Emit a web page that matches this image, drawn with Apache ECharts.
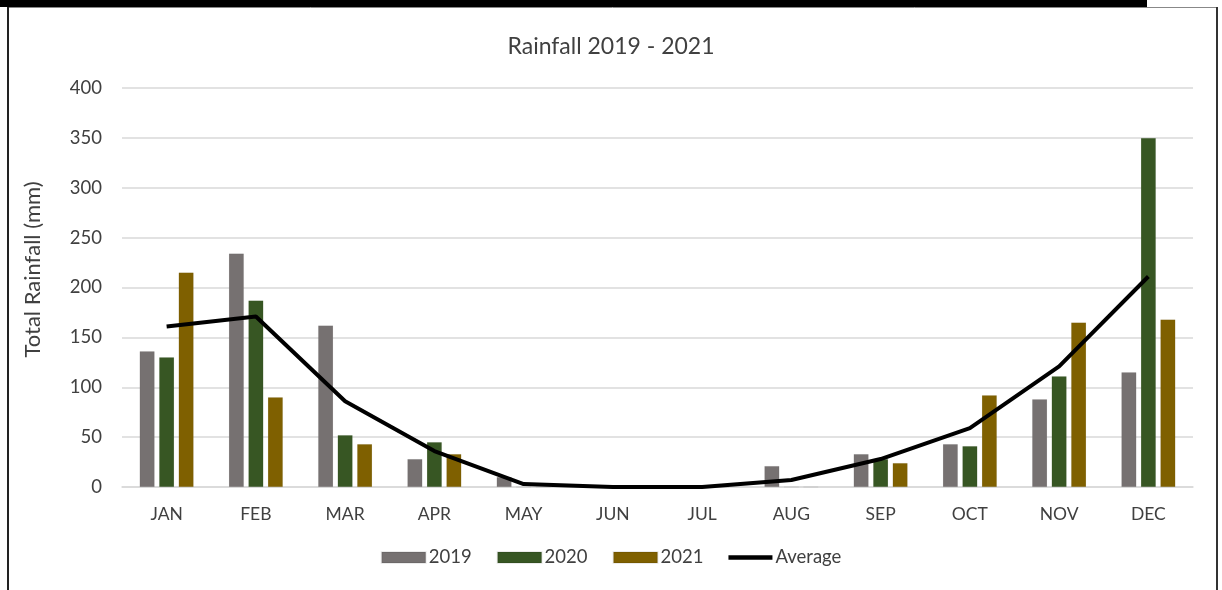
<!DOCTYPE html>
<html>
<head>
<meta charset="utf-8">
<script src="https://cdn.jsdelivr.net/npm/echarts@6/dist/echarts.min.js"></script>
<style>
  html, body { margin: 0; padding: 0; background: #fff; }
  #chart { width: 1222px; height: 590px; }
</style>
</head>
<body>
<div id="chart"></div>
<script>
// Monthly rainfall totals (mm)
const months = ['JAN', 'FEB', 'MAR', 'APR', 'MAY', 'JUN', 'JUL', 'AUG', 'SEP', 'OCT', 'NOV', 'DEC'];
const rain2019 = [136, 234, 162, 28, 10, 0, 0, 21, 33, 43, 88, 115];
const rain2020 = [130, 187, 52, 45, 0, 0, 0, 0, 28, 41, 111, 350];
const rain2021 = [215, 90, 43, 33, 0, 0, 0, 0, 24, 92, 165, 168];
const rainAverage = [161, 171, 86, 36, 3, 0, 0, 7, 28, 59, 121, 211];
const yTicks = [0, 50, 100, 150, 200, 250, 300, 350, 400];

const textColor = '#404040';
const font = 'Lato';

const chart = echarts.init(document.getElementById('chart'), null, { renderer: 'canvas' });

const barSeries = (name, data, color) => ({
  name,
  type: 'bar',
  data,
  barWidth: 15,
  barGap: '30%',
  itemStyle: { color, borderColor: 'rgba(0,0,0,0.08)', borderWidth: 0.5 },
  emphasis: { disabled: true }
});

chart.setOption({
  animation: false,
  backgroundColor: '#fff',
  title: {
    text: 'Rainfall 2019 - 2021',
    left: 'center',
    top: 30,
    textStyle: { fontFamily: font, fontSize: 23, fontWeight: 'normal', color: textColor }
  },
  legend: {
    bottom: 23,
    left: 'center',
    padding: 0,
    itemWidth: 44,
    itemHeight: 11,
    itemGap: 25,
    textStyle: { fontFamily: font, fontSize: 18.5, color: textColor, padding: [0, 0, 0, -2] },
    data: [
      { name: '2019', icon: 'rect' },
      { name: '2020', icon: 'rect' },
      { name: '2021', icon: 'rect' },
      { name: 'Average', icon: 'path://M0,0 L10,0 L10,1 L0,1 Z', itemStyle: { color: '#000' } }
    ]
  },
  grid: { left: 122, right: 29, top: 88, bottom: 103 },
  xAxis: {
    type: 'category',
    data: months,
    axisLine: { lineStyle: { color: '#d9d9d9', width: 1.5 } },
    axisTick: { show: false },
    axisLabel: { fontFamily: font, fontSize: 17.5, color: textColor, margin: 18 }
  },
  yAxis: {
    type: 'value',
    min: yTicks[0],
    max: yTicks[yTicks.length - 1],
    interval: 50,
    name: 'Total Rainfall (mm)',
    nameLocation: 'middle',
    nameGap: 78,
    nameTextStyle: { fontFamily: font, fontSize: 22, color: textColor, padding: [0, 0, 0, 36] },
    axisLine: { show: false },
    axisTick: { show: false },
    axisLabel: { fontFamily: font, fontSize: 18.5, color: textColor, margin: 20 },
    splitLine: { lineStyle: { color: '#d9d9d9', width: 1.5 } }
  },
  series: [
    barSeries('2019', rain2019, '#767171'),
    barSeries('2020', rain2020, '#375623'),
    barSeries('2021', rain2021, '#7f6000'),
    {
      name: 'Average',
      type: 'line',
      data: rainAverage,
      symbol: 'none',
      lineStyle: { color: '#000', width: 4 },
      itemStyle: { color: '#000' },
      emphasis: { disabled: true },
      z: 5
    }
  ],
  graphic: [
    { type: 'rect', shape: { x: 0, y: 0, width: 1147, height: 7 }, style: { fill: '#000' }, z: 100 },
    { type: 'line', shape: { x1: 8, y1: 7.5, x2: 1217, y2: 7.5 }, style: { stroke: '#888', lineWidth: 1 }, z: 99 },
    { type: 'rect', shape: { x: 7, y: 7, width: 2, height: 583 }, style: { fill: '#222' }, z: 100 },
    { type: 'rect', shape: { x: 1216, y: 7, width: 2, height: 583 }, style: { fill: '#333' }, z: 100 }
  ]
});
</script>
</body>
</html>
